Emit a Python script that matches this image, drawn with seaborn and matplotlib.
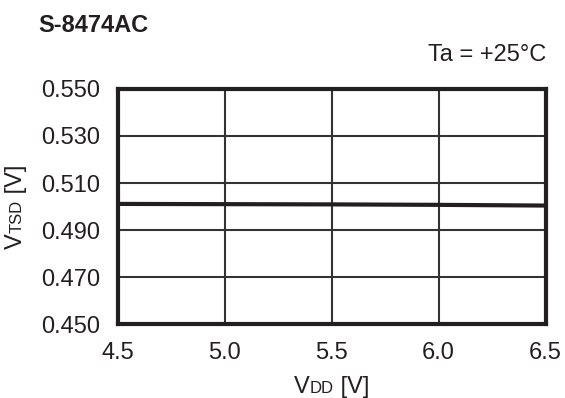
import matplotlib
matplotlib.use("Agg")
import matplotlib.pyplot as plt
import seaborn as sns
import pandas as pd
from matplotlib.transforms import offset_copy

# Supply voltage sweep and measured detection voltage
vdd = [4.5, 5.0, 5.5, 6.0, 6.5]
vtsd = [0.5011, 0.5010, 0.5009, 0.5007, 0.5004]

x_ticks = [4.5, 5.0, 5.5, 6.0, 6.5]
x_tick_labels = ["4.5", "5.0", "5.5", "6.0", "6.5"]
y_ticks = [0.450, 0.470, 0.490, 0.510, 0.530, 0.550]
y_tick_labels = ["0.450", "0.470", "0.490", "0.510", "0.530", "0.550"]

title = "S-8474AC"
condition = "Ta = +25°C"

sns.set_theme(style="white")
plt.rcParams["font.family"] = ["Liberation Sans", "DejaVu Sans"]

ink = "#231f20"
df = pd.DataFrame({"VDD": vdd, "VTSD": vtsd})

fig = plt.figure(figsize=(5.65, 3.98), dpi=100)
ax = fig.add_axes([0.2088, 0.1859, 0.9655 - 0.2088, 0.7764 - 0.1859])

sns.lineplot(data=df, x="VDD", y="VTSD", ax=ax, color=ink, linewidth=3.0)

ax.set_xlim(4.5, 6.5)
ax.set_ylim(0.450, 0.550)
ax.set_xticks(x_ticks)
ax.set_xticklabels(x_tick_labels)
ax.set_yticks(y_ticks)
ax.set_yticklabels(y_tick_labels)
ax.tick_params(axis="both", length=0, labelsize=17, colors=ink, pad=13)

ax.grid(True, color="#333333", linewidth=1.5)
ax.set_axisbelow(True)
for sp in ax.spines.values():
    sp.set_visible(True)
    sp.set_color(ink)
    sp.set_linewidth(3.0)

ax.set_xlabel("")
ax.set_ylabel("")

fig.text(38 / 565, 1 - 25 / 398, title, fontsize=17, fontweight="bold",
         color=ink, ha="left", va="center")
fig.text(546 / 565, 1 - 55 / 398, condition, fontsize=17, color=ink,
         ha="right", va="center")

fig.canvas.draw()
renderer = fig.canvas.get_renderer()


def compound_label(x, y, parts, rotation=0):
    """Draw text pieces side by side on a shared baseline, centred on (x, y)."""
    objs = []
    trans = fig.transFigure
    total = 0.0
    for txt, size in parts:
        t = fig.text(0, 0, txt, fontsize=size, color=ink)
        w = t.get_window_extent(renderer).width
        objs.append((t, w))
        total += w
    start = -total / 2
    for t, w in objs:
        if rotation == 0:
            t.set_transform(offset_copy(trans, fig=fig, x=start, y=0, units="dots"))
        else:
            t.set_rotation(90)
            t.set_rotation_mode("anchor")
            t.set_transform(offset_copy(trans, fig=fig, x=0, y=start, units="dots"))
        t.set_position((x, y))
        t.set_ha("left")
        t.set_va("baseline")
        start += w


compound_label(331.75 / 565, 1 - 393 / 398,
               [("V", 17), ("DD", 12), (" [V]", 17)])
compound_label(22 / 565, 1 - 206.5 / 398,
               [("V", 17), ("TSD", 12), (" [V]", 17)], rotation=90)

fig.savefig("out.png", dpi=100, facecolor="white")
